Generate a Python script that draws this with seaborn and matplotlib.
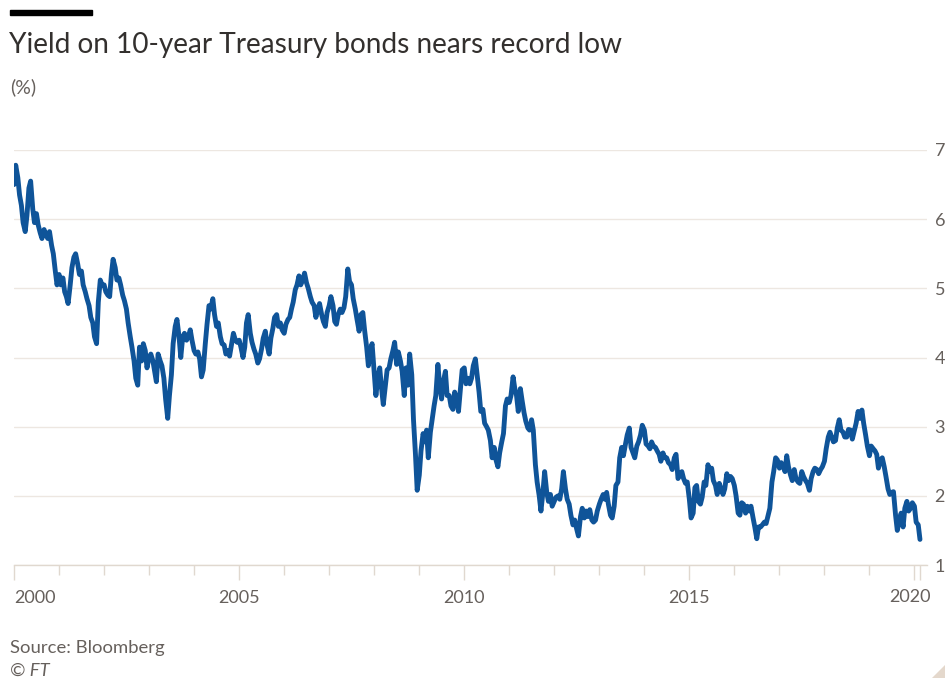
import pandas as pd
import matplotlib
matplotlib.use("Agg")
import matplotlib.pyplot as plt
from matplotlib.patches import Rectangle, Polygon
import seaborn as sns

# US 10-year Treasury yield (%), readings on the 1st and 15th of each month
y2000 = [6.50, 6.78, 6.60, 6.35, 6.20, 5.95, 5.82, 6.05, 6.45, 6.55, 6.15, 5.95,
         6.08, 5.92, 5.80, 5.72, 5.85, 5.78, 5.72, 5.82, 5.62, 5.50, 5.25, 5.05]
y2001 = [5.20, 5.05, 5.15, 4.95, 4.88, 4.78, 5.05, 5.30, 5.45, 5.50, 5.35, 5.20,
         5.25, 5.05, 4.95, 4.85, 4.75, 4.58, 4.50, 4.30, 4.20, 4.80, 5.12, 5.05]
y2002 = [5.05, 4.95, 4.90, 4.88, 5.20, 5.42, 5.30, 5.12, 5.15, 5.05, 4.90, 4.82,
         4.70, 4.50, 4.30, 4.15, 3.95, 3.70, 3.60, 4.15, 3.95, 4.20, 4.10, 3.85]
y2003 = [4.00, 4.05, 3.95, 3.80, 3.65, 4.05, 3.95, 3.88, 3.70, 3.40, 3.12, 3.45,
         3.75, 4.20, 4.45, 4.55, 4.30, 4.00, 4.30, 4.35, 4.25, 4.30, 4.40, 4.25]
y2004 = [4.10, 4.05, 4.08, 3.98, 3.72, 3.82, 4.20, 4.48, 4.75, 4.70, 4.85, 4.62,
         4.45, 4.50, 4.30, 4.20, 4.18, 4.05, 4.10, 4.02, 4.20, 4.35, 4.25, 4.22]
y2005 = [4.25, 4.15, 4.00, 4.15, 4.50, 4.62, 4.35, 4.22, 4.12, 4.05, 3.92, 3.98,
         4.12, 4.28, 4.38, 4.18, 4.05, 4.28, 4.42, 4.58, 4.62, 4.45, 4.50, 4.40]
y2006 = [4.35, 4.48, 4.55, 4.58, 4.70, 4.80, 4.98, 5.05, 5.18, 5.05, 5.12, 5.22,
         5.08, 5.00, 4.88, 4.80, 4.75, 4.58, 4.70, 4.78, 4.62, 4.52, 4.45, 4.65]
y2007 = [4.75, 4.88, 4.75, 4.52, 4.48, 4.62, 4.70, 4.65, 4.72, 4.88, 5.28, 5.10,
         5.05, 4.85, 4.70, 4.55, 4.38, 4.62, 4.65, 4.40, 4.15, 3.88, 4.10, 4.20]
y2008 = [3.80, 3.45, 3.72, 3.85, 3.55, 3.32, 3.60, 3.82, 3.85, 3.98, 4.10, 4.22,
         3.90, 4.08, 3.95, 3.80, 3.45, 3.85, 3.60, 4.05, 3.75, 3.10, 2.60, 2.08]
y2009 = [2.30, 2.65, 2.90, 2.78, 2.95, 2.55, 2.92, 3.10, 3.30, 3.45, 3.90, 3.60,
         3.40, 3.65, 3.80, 3.45, 3.45, 3.30, 3.25, 3.50, 3.40, 3.22, 3.55, 3.82]
y2010 = [3.85, 3.62, 3.70, 3.62, 3.70, 3.88, 3.98, 3.75, 3.50, 3.22, 3.25, 3.05,
         3.00, 2.95, 2.80, 2.55, 2.70, 2.52, 2.42, 2.62, 2.78, 2.90, 3.30, 3.40]
y2011 = [3.35, 3.45, 3.72, 3.55, 3.45, 3.22, 3.55, 3.38, 3.20, 3.08, 2.98, 2.95,
         3.10, 2.95, 2.45, 2.20, 2.00, 1.78, 2.05, 2.35, 2.05, 1.92, 2.02, 1.85]
y2012 = [1.92, 1.98, 2.00, 1.95, 2.10, 2.35, 2.10, 1.95, 1.88, 1.72, 1.58, 1.65,
         1.52, 1.42, 1.70, 1.82, 1.68, 1.78, 1.70, 1.80, 1.65, 1.62, 1.65, 1.78]
y2013 = [1.88, 1.95, 2.02, 1.95, 2.05, 1.88, 1.72, 1.68, 1.85, 2.15, 2.20, 2.55,
         2.70, 2.58, 2.75, 2.88, 2.98, 2.70, 2.62, 2.55, 2.72, 2.78, 2.88, 3.02]
y2014 = [2.95, 2.75, 2.72, 2.68, 2.78, 2.72, 2.70, 2.65, 2.60, 2.50, 2.62, 2.55,
         2.55, 2.48, 2.45, 2.38, 2.55, 2.60, 2.25, 2.30, 2.35, 2.25, 2.18, 2.20]
y2015 = [1.95, 1.68, 1.75, 2.12, 2.15, 1.92, 1.88, 1.98, 2.20, 2.15, 2.45, 2.35,
         2.40, 2.22, 2.15, 2.02, 2.18, 2.10, 2.02, 2.10, 2.32, 2.22, 2.28, 2.25]
y2016 = [2.15, 2.00, 1.75, 1.72, 1.90, 1.88, 1.75, 1.85, 1.78, 1.85, 1.68, 1.55,
         1.38, 1.55, 1.55, 1.58, 1.62, 1.60, 1.72, 1.82, 2.20, 2.35, 2.55, 2.52]
y2017 = [2.40, 2.48, 2.42, 2.35, 2.58, 2.42, 2.30, 2.22, 2.38, 2.25, 2.20, 2.18,
         2.35, 2.28, 2.22, 2.18, 2.08, 2.25, 2.35, 2.40, 2.38, 2.32, 2.38, 2.42]
y2018 = [2.50, 2.68, 2.85, 2.92, 2.85, 2.78, 2.80, 2.98, 3.10, 2.95, 2.92, 2.85,
         2.85, 2.96, 2.95, 2.82, 2.95, 3.05, 3.22, 3.12, 3.24, 3.05, 2.88, 2.72]
y2019 = [2.58, 2.72, 2.68, 2.65, 2.60, 2.40, 2.52, 2.55, 2.42, 2.28, 2.10, 2.02,
         2.05, 2.06, 1.72, 1.50, 1.65, 1.75, 1.55, 1.82, 1.92, 1.78, 1.82, 1.90]
y2020 = [1.85, 1.62, 1.58, 1.37]

labelled_years = [2000, 2005, 2010, 2015, 2020]
y_ticks = [1, 2, 3, 4, 5, 6, 7]

title = "Yield on 10-year Treasury bonds nears record low"
unit = "(%)"
source = "Source: Bloomberg"
credit = "© FT"

yields = (y2000 + y2001 + y2002 + y2003 + y2004 + y2005 + y2006 + y2007 + y2008 +
          y2009 + y2010 + y2011 + y2012 + y2013 + y2014 + y2015 + y2016 + y2017 +
          y2018 + y2019 + y2020)
dates = pd.date_range("2000-01-01", periods=len(yields), freq="SMS")
df = pd.DataFrame({"date": dates, "yield": yields})

sns.set_theme(style="white")
plt.rcParams["font.family"] = ["Lato", "DejaVu Sans"]

BLUE = "#0f5499"
INK = "#33302e"
GREY = "#66605c"
GRID = "#ede7e1"
AXIS = "#e0d8cf"

W, H = 948, 679
fig = plt.figure(figsize=(W / 100, H / 100), dpi=100)
fig.patch.set_facecolor("white")


def fx(px):
    return px / W


def fy(py):
    return 1 - py / H


ax = fig.add_axes([fx(14), fy(565), fx(927) - fx(14), fy(150) - fy(565)])
ax.set_facecolor("white")

sns.lineplot(data=df, x="date", y="yield", ax=ax, color=BLUE, linewidth=3.5,
             zorder=3, solid_joinstyle="round", solid_capstyle="round")

x_start = pd.Timestamp("2000-01-01")
x_end = pd.Timestamp("2020-04-12")
data_end = pd.Timestamp("2020-02-17")
ax.set_xlim(x_start, x_end)
ax.set_ylim(y_ticks[0], y_ticks[-1])

# x axis: long ticks at labelled years and at the end of the data, short ones elsewhere
major = [pd.Timestamp(f"{y}-01-01") for y in labelled_years] + [data_end]
minor = [pd.Timestamp(f"{y}-01-01") for y in range(2000, 2021) if y not in labelled_years]
ax.set_xticks(major)
ax.set_xticklabels([str(y) for y in labelled_years[:-1]] + ["", ""])
ax.set_xticks(minor, minor=True)
ax.tick_params(axis="x", which="both", bottom=True, color=AXIS, width=1.0,
               labelsize=13, labelcolor=GREY, direction="out")
ax.tick_params(axis="x", which="major", length=10.8, pad=7)
ax.tick_params(axis="x", which="minor", length=7.2)
labels = ax.get_xticklabels()
labels[0].set_horizontalalignment("left")
ax.text(1.0 + 4 / 913, -32 / 415, str(labelled_years[-1]), transform=ax.transAxes,
        ha="right", va="center", fontsize=13, color=GREY)

# y axis on the right with light horizontal gridlines
ax.set_yticks(y_ticks)
ax.yaxis.tick_right()
ax.tick_params(axis="y", which="both", length=0, pad=5.5, labelsize=13,
               labelcolor=GREY, right=False, left=False)
ax.grid(axis="y", color=GRID, linewidth=1.0, zorder=0)
ax.grid(axis="x", visible=False)
for side in ("top", "left", "right"):
    ax.spines[side].set_visible(False)
ax.spines["bottom"].set_color(AXIS)
ax.spines["bottom"].set_linewidth(1.0)
ax.set_xlabel("")
ax.set_ylabel("")

# header: black rule, title, unit
fig.patches.append(Rectangle((fx(10), fy(15)), fx(92) - fx(10), fy(10) - fy(15),
                             transform=fig.transFigure, color="black", zorder=5))
fig.text(fx(9), fy(45), title, ha="left", va="center", fontsize=20.2, color=INK)
fig.text(fx(10), fy(87), unit, ha="left", va="center", fontsize=14, color=GREY)

# footer
fig.text(fx(10), fy(648), source, ha="left", va="center", fontsize=13.3, color=GREY)
fig.text(fx(10), fy(671), credit, ha="left", va="center", fontsize=13.3, color=GREY,
         style="italic")
fig.patches.append(Polygon([(fx(932), fy(678)), (fx(945), fy(678)), (fx(945), fy(665))],
                           closed=True, transform=fig.transFigure,
                           facecolor="#e4d8cc", edgecolor="none"))

fig.savefig("out.png", dpi=100, facecolor="white")
